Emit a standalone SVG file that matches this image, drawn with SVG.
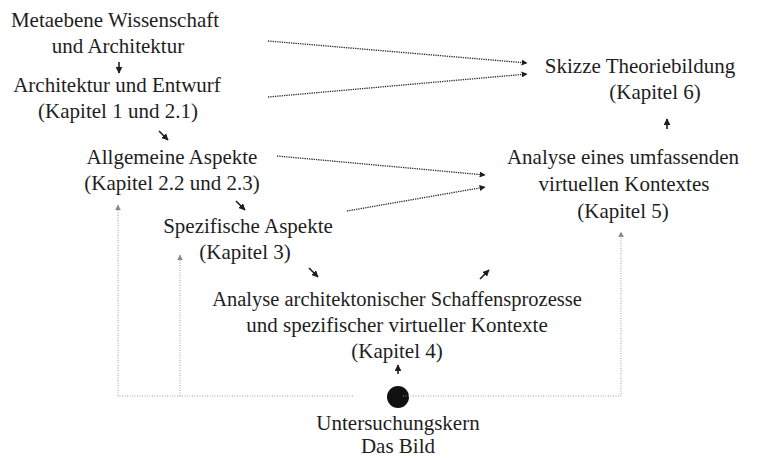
<svg xmlns="http://www.w3.org/2000/svg" width="758" height="459" viewBox="0 0 758 459">
<defs>
<style>
text{font-family:"Liberation Serif","Times New Roman","DejaVu Serif",serif;font-size:21px;fill:#1e1e1e;text-anchor:middle}
.dot{stroke:#2a2a2a;stroke-width:1.3;stroke-dasharray:1.3 1;fill:none}
.gray{stroke:#9a9a9a;stroke-width:1;stroke-dasharray:1 1.5;fill:none}
.sh{stroke:#1e1e1e;stroke-width:1.6;fill:none}
</style>
<marker id="ah" viewBox="0 0 10 10" refX="9" refY="5" markerWidth="6" markerHeight="6" markerUnits="userSpaceOnUse" orient="auto"><path d="M0,0L10,5L0,10z" fill="#1e1e1e"/></marker>
<marker id="ahs" viewBox="0 0 10 10" refX="9" refY="5" markerWidth="7" markerHeight="7" markerUnits="userSpaceOnUse" orient="auto"><path d="M0,0L10,5L0,10z" fill="#1e1e1e"/></marker>
<marker id="ag" viewBox="0 0 10 10" refX="9" refY="5" markerWidth="6" markerHeight="6" markerUnits="userSpaceOnUse" orient="auto"><path d="M0,0L10,5L0,10z" fill="#8a8a8a"/></marker>
</defs>

<g id="n-metaebene"><text x="115" y="27">Metaebene Wissenschaft</text><text x="118" y="53">und Architektur</text></g>
<g id="n-architektur"><text x="117" y="92">Architektur und Entwurf</text><text x="118" y="118">(Kapitel 1 und 2.1)</text></g>
<g id="n-allgemein"><text x="172" y="164">Allgemeine Aspekte</text><text x="172" y="190">(Kapitel 2.2 und 2.3)</text></g>
<g id="n-spezifisch"><text x="248" y="233">Spezifische Aspekte</text><text x="245" y="259">(Kapitel 3)</text></g>
<g id="n-kap4"><text x="397" y="306" style="font-size:20.5px">Analyse architektonischer Schaffensprozesse</text><text x="397" y="332">und spezifischer virtueller Kontexte</text><text x="397" y="358">(Kapitel 4)</text></g>
<g id="n-kern"><circle cx="398" cy="397" r="11" fill="#111"/><text x="398" y="430">Untersuchungskern</text><text x="398" y="453">Das Bild</text></g>
<g id="n-kap6"><text x="640" y="73">Skizze Theoriebildung</text><text x="655" y="99">(Kapitel 6)</text></g>
<g id="n-kap5"><text x="623" y="164">Analyse eines umfassenden</text><text x="624" y="191">virtuellen Kontextes</text><text x="623" y="218">(Kapitel 5)</text></g>

<g id="connectors">
<line class="sh" x1="119" y1="62" x2="119" y2="73" marker-end="url(#ahs)"/>
<line class="sh" x1="159" y1="131" x2="168" y2="140" marker-end="url(#ahs)"/>
<line class="sh" x1="236" y1="201" x2="245" y2="210" marker-end="url(#ahs)"/>
<line class="sh" x1="309" y1="268" x2="318" y2="277" marker-end="url(#ahs)"/>
<line class="sh" x1="480" y1="279" x2="489" y2="270" marker-end="url(#ahs)"/>
<line class="sh" x1="398" y1="374" x2="398" y2="365" marker-end="url(#ahs)"/>
<line class="sh" x1="667" y1="129" x2="667" y2="119" marker-end="url(#ahs)"/>

<line class="dot" x1="268" y1="41" x2="527" y2="63" marker-end="url(#ah)"/>
<line class="dot" x1="268" y1="97" x2="527" y2="74" marker-end="url(#ah)"/>
<line class="dot" x1="277" y1="156" x2="485" y2="175" marker-end="url(#ah)"/>
<line class="dot" x1="347" y1="211" x2="485" y2="187" marker-end="url(#ah)"/>

<polyline class="gray" points="353,396 118,396 118,205" marker-end="url(#ag)"/>
<line class="gray" x1="180" y1="396" x2="180" y2="255" marker-end="url(#ag)"/>
<polyline class="gray" points="403,396 621,396 621,232" marker-end="url(#ag)"/>
</g>
</svg>
